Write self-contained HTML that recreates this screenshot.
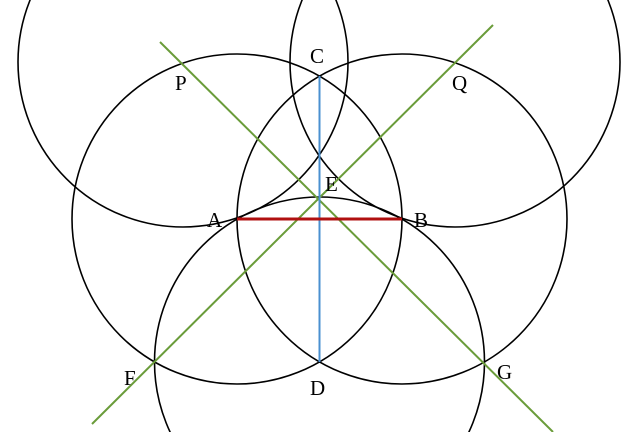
<!DOCTYPE html>
<html><head><style>html,body{margin:0;background:#fff;overflow:hidden;width:640px;height:432px}svg{display:block}</style></head><body>
<svg width="640" height="432" viewBox="0 0 640 432" xmlns="http://www.w3.org/2000/svg">
<g fill="none" stroke="#000" stroke-width="1.6">
<circle cx="237" cy="219" r="165"/>
<circle cx="402" cy="219" r="165"/>
<circle cx="183" cy="62" r="165"/>
<circle cx="455" cy="62" r="165"/>
<circle cx="319.5" cy="362" r="165"/>
</g>
<line x1="160" y1="42" x2="553" y2="432" stroke="#6a9c3a" stroke-width="2"/>
<line x1="493" y1="25" x2="92" y2="424" stroke="#6a9c3a" stroke-width="2"/>
<line x1="319.5" y1="76" x2="319.5" y2="362" stroke="#4a90d0" stroke-width="2"/>
<line x1="237" y1="219" x2="402" y2="219" stroke="#b01010" stroke-width="3"/>
<g font-family="Liberation Serif, serif" font-size="21" fill="#000">
<text x="310" y="63">C</text>
<text x="175" y="90">P</text>
<text x="452" y="90">Q</text>
<text x="325" y="191">E</text>
<text x="207" y="227">A</text>
<text x="414" y="227">B</text>
<text x="124" y="385">F</text>
<text x="497" y="379">G</text>
<text x="310" y="395">D</text>
</g>
</svg>
</body></html>
